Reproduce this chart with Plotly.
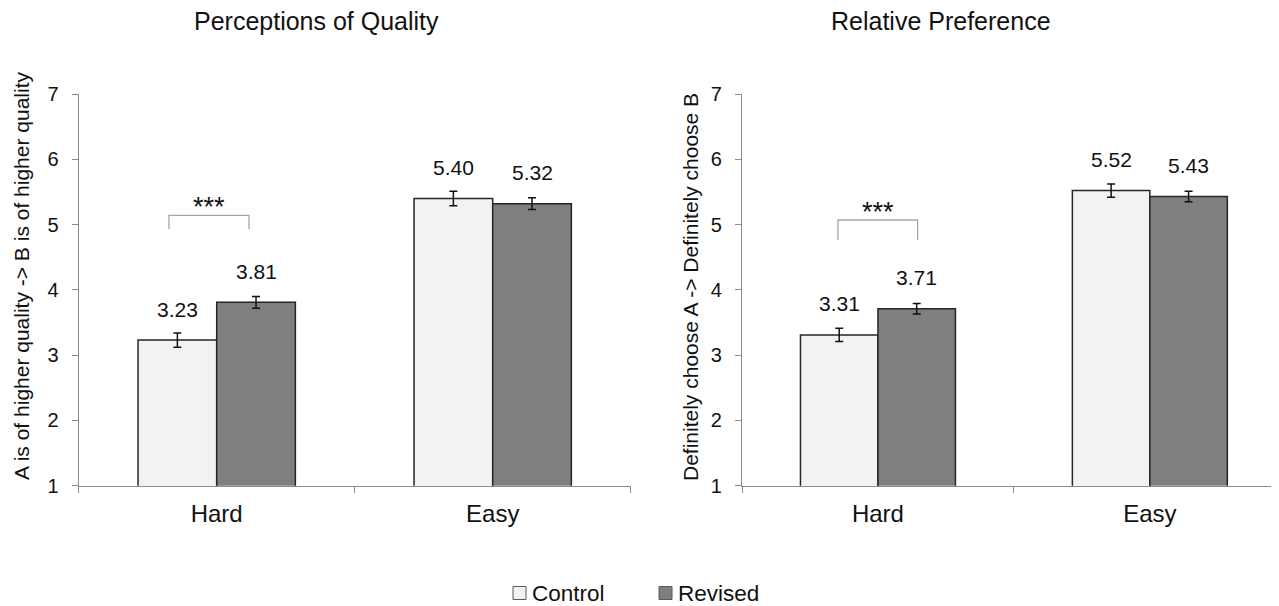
import plotly.graph_objects as go

# ---- data ----
categories = ["Hard", "Easy"]
series_names = ["Control", "Revised"]

quality_control = [3.23, 5.40]
quality_revised = [3.81, 5.32]
quality_control_err = [0.11, 0.11]
quality_revised_err = [0.09, 0.09]

pref_control = [3.31, 5.52]
pref_revised = [3.71, 5.43]
pref_control_err = [0.10, 0.10]
pref_revised_err = [0.08, 0.08]

panel_titles = ["Perceptions of Quality", "Relative Preference"]
y_titles = ["A is of higher quality -> B is of higher quality",
            "Definitely choose A -> Definitely choose B"]
y_ticks = [1, 2, 3, 4, 5, 6, 7]
sig_label = "***"

# ---- style ----
FONT = "Arial, Liberation Sans, Helvetica, sans-serif"
OFF = 8                      # page body margin
W, H = 1279 - OFF, 606 - OFF
fill = {"Control": "#f2f2f2", "Revised": "#7f7f7f"}
edge = "#262626"
axis_col = "#8c8c8c"
txt = "#111111"

def px_x(p):
    return (p - OFF) / W

def px_y(p):
    return (H - (p - OFF)) / H

x1dom = [px_x(78.7), px_x(630.7)]
x2dom = [px_x(742), 1.0]
ydom = [px_y(485.7), px_y(94)]

fig = go.Figure()

panels = [
    ("x", "y", quality_control, quality_revised, quality_control_err, quality_revised_err),
    ("x2", "y2", pref_control, pref_revised, pref_control_err, pref_revised_err),
]

for i, (xa, ya, ctrl, rev, ctrl_e, rev_e) in enumerate(panels):
    for name, vals, errs in [("Control", ctrl, ctrl_e), ("Revised", rev, rev_e)]:
        fig.add_trace(go.Bar(
            x=categories, y=vals, name=name, xaxis=xa, yaxis=ya,
            marker=dict(color=fill[name], line=dict(color=edge, width=1.5)),
            error_y=dict(type="data", array=errs, visible=True,
                         color="#111111", thickness=1.5, width=4),
            showlegend=False, offsetgroup=name,
        ))

# value labels
label_offset = 0.285 / 2
for i, (xa, ya, ctrl, rev, ctrl_e, rev_e) in enumerate(panels):
    for j, cat in enumerate(categories):
        for k, vals in enumerate([ctrl, rev]):
            xpos = j + (-1 if k == 0 else 1) * label_offset
            fig.add_annotation(
                x=xpos, y=vals[j], xref=xa, yref=ya, text=f"{vals[j]:.2f}",
                showarrow=False, yshift=31, yanchor="middle",
                font=dict(family=FONT, size=21, color=txt))

# significance brackets
brackets = [
    ("x", "y", -0.173, 0.117, 4.93, 5.14, 5.33),
    ("x2", "y2", -0.147, 0.146, 4.76, 5.07, 5.25),
]
for xa, ya, xl, xr, yb, yt, ys in brackets:
    fig.add_shape(type="path",
                  path=f"M {xl},{yb} L {xl},{yt} L {xr},{yt} L {xr},{yb}",
                  xref=xa, yref=ya, line=dict(color="#a6a6a6", width=1.3))
    fig.add_annotation(x=(xl + xr) / 2, y=ys, xref=xa, yref=ya, text=sig_label,
                       showarrow=False, yanchor="middle", yshift=-4,
                       font=dict(family=FONT, size=27, color=txt))

# panel titles
for text, xc in zip(panel_titles, [316, 941]):
    fig.add_annotation(x=px_x(xc), y=px_y(21), xref="paper", yref="paper",
                       text=text, showarrow=False, xanchor="center", yanchor="middle",
                       font=dict(family=FONT, size=25, color=txt))

# y-axis titles
for text, xc, yc in zip(y_titles, [21, 690], [276, 287]):
    fig.add_annotation(x=px_x(xc), y=px_y(yc), xref="paper", yref="paper",
                       text=text, showarrow=False, textangle=-90,
                       xanchor="center", yanchor="middle",
                       font=dict(family=FONT, size=21, color=txt))

# legend (drawn manually to match the spacing)
legend_items = [("Control", 513, 532), ("Revised", 659, 678)]
for name, bx, tx in legend_items:
    fig.add_shape(type="rect", xref="paper", yref="paper",
                  x0=px_x(bx), x1=px_x(bx + 13), y0=px_y(599.5), y1=px_y(586.5),
                  fillcolor=fill[name], line=dict(color="#595959", width=1))
    fig.add_annotation(x=px_x(tx - 2), y=px_y(593), xref="paper", yref="paper",
                       text=name, showarrow=False, xanchor="left", yanchor="middle",
                       font=dict(family=FONT, size=22.5, color=txt))

xaxis_common = dict(
    showline=True, linecolor=axis_col, linewidth=1.3,
    ticks="outside", tickson="boundaries", ticklen=6, tickcolor=axis_col,
    tickwidth=1.3, tickfont=dict(family=FONT, size=24, color=txt),
    showgrid=False, zeroline=False, automargin=False, ticklabelstandoff=6,
    fixedrange=True,
)
yaxis_style = dict(
    range=[1, 7], tickvals=y_ticks, showline=True, linecolor=axis_col,
    linewidth=1.3, ticks="outside", ticklen=6, tickcolor=axis_col, tickwidth=1.3,
    tickfont=dict(family=FONT, size=20, color=txt), showgrid=False,
    zeroline=False, automargin=False, ticklabelstandoff=9, domain=ydom,
)

fig.update_layout(
    width=W, height=H,
    margin=dict(l=0, r=0, t=0, b=0),
    paper_bgcolor="white", plot_bgcolor="white",
    barmode="group", bargap=0.43, bargroupgap=0,
    showlegend=False,
    xaxis=dict(domain=x1dom, anchor="y", range=[-0.5, 1.5], **xaxis_common),
    yaxis=dict(anchor="x", **yaxis_style),
    xaxis2=dict(domain=x2dom, anchor="y2", range=[-0.5, 1.475], **xaxis_common),
    yaxis2=dict(anchor="x2", **yaxis_style),
    font=dict(family=FONT),
)

fig.write_html("out.html")
